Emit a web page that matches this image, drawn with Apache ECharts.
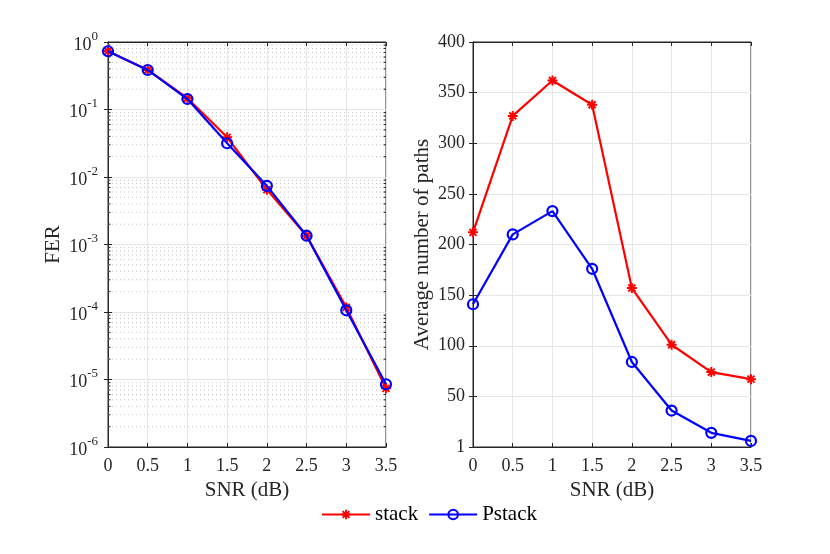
<!DOCTYPE html>
<html><head><meta charset="utf-8">
<script src="https://cdn.jsdelivr.net/npm/echarts@6/dist/echarts.min.js"></script>
<style>html,body{margin:0;padding:0;background:#fff}#c{width:830px;height:554px}</style>
</head><body><div id="c"></div>
<script>
const snr = [0, 0.5, 1, 1.5, 2, 2.5, 3, 3.5];
const ferStack = [0.73, 0.385, 0.147, 0.0387, 0.0065, 0.00135, 1.17e-4, 7.4e-6];
const ferPstack = [0.73, 0.385, 0.143, 0.0316, 0.0074, 0.00135, 1.06e-4, 8.5e-6];
const pathsStack = [212, 327, 362, 338, 157, 101, 74, 67];
const pathsPstack = [141, 210, 233, 176, 84, 36, 14, 6];
const seriesNames = ['stack', 'Pstack'];
const pathsBottomLabel = '1';
const minorDecades = [-6, -5, -4, -3, -2, -1];
const minorMultipliers = [2, 3, 4, 5, 6, 7, 8, 9];

const FONT = 'Liberation Serif';
const TXT = '#262626';
const AX = '#262626';
const GRID = '#e6e6e6';
const RED = '#ff0000';
const BLUE = '#0000ff';
const STAR = 'path://M-1,-5 L1,-5 L1,5 L-1,5 Z M-5,-1 L5,-1 L5,1 L-5,1 Z M-2.8,-4.2 L4.2,2.8 L2.8,4.2 L-4.2,-2.8 Z M2.8,-4.2 L4.2,-2.8 L-2.8,4.2 L-4.2,2.8 Z';

const pair = (xs, ys) => xs.map((x, i) => [x, ys[i]]);
const minorVals = [];
minorDecades.forEach(e => minorMultipliers.forEach(m => minorVals.push(m * Math.pow(10, e))));

const chart = echarts.init(document.getElementById('c'), null, {renderer: 'canvas'});

function xAx(gi, pos, show) {
  return {
    type: 'value', gridIndex: gi, position: pos, min: 0, max: 3.5, interval: 0.5,
    axisLine: {show: true, onZero: false, lineStyle: {color: AX, width: 1}},
    axisTick: {show: true, inside: true, length: 4, lineStyle: {color: AX}},
    axisLabel: {show: show, margin: 10, fontFamily: FONT, fontSize: 18, color: TXT,
      formatter: v => String(v)},
    splitLine: {show: show, lineStyle: {color: GRID, width: 1}},
    name: show ? 'SNR (dB)' : '', nameLocation: 'middle', nameGap: 33,
    nameTextStyle: {fontFamily: FONT, fontSize: 21, color: TXT}
  };
}

const option = {
  animation: false,
  backgroundColor: '#ffffff',
  grid: [
    {left: 108, right: 444, top: 42, bottom: 107, show: true, borderColor: AX, borderWidth: 1, backgroundColor: '#fff'},
    {left: 473, right: 79, top: 42, bottom: 107, show: true, borderColor: AX, borderWidth: 1, backgroundColor: '#fff'}
  ],
  legend: {
    data: seriesNames.map(n => ({name: n})),
    left: 316, top: 499, itemWidth: 48, itemHeight: 12, itemGap: 10,
    textStyle: {fontFamily: FONT, fontSize: 21, color: '#000'}
  },
  xAxis: [xAx(0, 'bottom', true), xAx(0, 'top', false), xAx(1, 'bottom', true), xAx(1, 'top', false)],
  yAxis: [
    {
      type: 'log', gridIndex: 0, position: 'left', min: 1e-6, max: 1, logBase: 10,
      axisLine: {show: true, lineStyle: {color: AX}},
      axisTick: {show: true, inside: true, length: 4, lineStyle: {color: AX}},
      axisLabel: {margin: 10, fontFamily: FONT, color: TXT,
        formatter: v => '{b|10}{s|' + Math.round(Math.log10(v)) + '}',
        rich: {b: {fontFamily: FONT, fontSize: 18, color: TXT, verticalAlign: 'bottom', lineHeight: 24},
               s: {fontFamily: FONT, fontSize: 13, color: TXT, verticalAlign: 'top', lineHeight: 24}}},
      splitLine: {show: true, lineStyle: {color: GRID}},
      name: 'FER', nameLocation: 'middle', nameGap: 44,
      nameTextStyle: {fontFamily: FONT, fontSize: 21, color: TXT}
    },
    {
      type: 'log', gridIndex: 0, position: 'right', min: 1e-6, max: 1, logBase: 10,
      axisLine: {show: true, lineStyle: {color: AX}},
      axisTick: {show: true, inside: true, length: 4, lineStyle: {color: AX}},
      axisLabel: {show: false}, splitLine: {show: false}
    },
    {
      type: 'value', gridIndex: 1, position: 'left', min: 0, max: 400, interval: 50,
      axisLine: {show: true, lineStyle: {color: AX}},
      axisTick: {show: true, inside: true, length: 4, lineStyle: {color: AX}},
      axisLabel: {margin: 8, fontFamily: FONT, fontSize: 18, color: TXT,
        formatter: v => v === 0 ? pathsBottomLabel : String(v)},
      splitLine: {show: true, lineStyle: {color: GRID}},
      name: 'Average number of paths', nameLocation: 'middle', nameGap: 40,
      nameTextStyle: {fontFamily: FONT, fontSize: 21, color: TXT}
    },
    {
      type: 'value', gridIndex: 1, position: 'right', min: 0, max: 400, interval: 50,
      axisLine: {show: true, lineStyle: {color: AX}},
      axisTick: {show: true, inside: true, length: 4, lineStyle: {color: AX}},
      axisLabel: {show: false}, splitLine: {show: false}
    }
  ],
  series: [
    {
      type: 'custom', name: 'minor', xAxisIndex: 0, yAxisIndex: 0, silent: true, z: 1,
      data: minorVals.map(v => [0, v]),
      renderItem: (params, api) => {
        const v = api.value(1);
        const p1 = api.coord([0, v]);
        const p2 = api.coord([3.5, v]);
        return {
          type: 'group',
          children: [
            {type: 'line', shape: {x1: p1[0], y1: p1[1], x2: p2[0], y2: p2[1]},
             style: {stroke: '#c4c4c4', lineWidth: 1, lineDash: [1, 3]}},
            {type: 'line', shape: {x1: p1[0], y1: p1[1], x2: p1[0] + 2.5, y2: p1[1]},
             style: {stroke: AX, lineWidth: 1}},
            {type: 'line', shape: {x1: p2[0] - 2.5, y1: p2[1], x2: p2[0], y2: p2[1]},
             style: {stroke: AX, lineWidth: 1}}
          ]
        };
      }
    },
    {
      type: 'line', name: seriesNames[0], xAxisIndex: 0, yAxisIndex: 0, data: pair(snr, ferStack),
      symbol: STAR, symbolSize: 10, lineStyle: {color: RED, width: 2.2}, itemStyle: {color: RED}, z: 3
    },
    {
      type: 'line', name: seriesNames[1], xAxisIndex: 0, yAxisIndex: 0, data: pair(snr, ferPstack),
      symbol: 'circle', symbolSize: 10, lineStyle: {color: BLUE, width: 2.2},
      itemStyle: {color: 'rgba(0,0,0,0)', borderColor: BLUE, borderWidth: 2.2}, z: 4
    },
    {
      type: 'line', name: seriesNames[0], xAxisIndex: 2, yAxisIndex: 2, data: pair(snr, pathsStack),
      symbol: STAR, symbolSize: 10, lineStyle: {color: RED, width: 2.2}, itemStyle: {color: RED}, z: 3
    },
    {
      type: 'line', name: seriesNames[1], xAxisIndex: 2, yAxisIndex: 2, data: pair(snr, pathsPstack),
      symbol: 'circle', symbolSize: 10, lineStyle: {color: BLUE, width: 2.2},
      itemStyle: {color: 'rgba(0,0,0,0)', borderColor: BLUE, borderWidth: 2.2}, z: 4
    }
  ]
};
chart.setOption(option);
</script></body></html>
